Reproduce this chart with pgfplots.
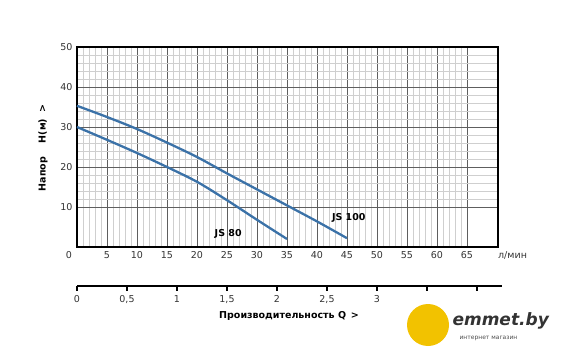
\documentclass[border=0pt]{standalone}
\usepackage{pgfplots}
\pgfplotsset{compat=1.18}
\usepackage{fontspec}
\setmainfont{DejaVu Sans}
\definecolor{curve}{HTML}{3B72A8}
\definecolor{majgrid}{HTML}{5E5E5E}
\definecolor{mingrid}{HTML}{CFCFCF}
\definecolor{ticktext}{HTML}{333333}
\definecolor{logoyellow}{HTML}{F2C200}
\begin{document}
\begin{tikzpicture}[x=1pt,y=1pt]
\useasboundingbox (0,0) rectangle (567,359);
\begin{axis}[
  at={(77pt,112pt)}, anchor=south west,
  scale only axis, width=421pt, height=200pt,
  xmin=0, xmax=70.17, ymin=0, ymax=50,
  xtick={0,5,...,65}, ytick={10,20,...,50},
  xticklabels={0\hspace*{16pt},5,10,15,20,25,30,35,40,45,50,55,60,65},
  minor x tick num=4, minor y tick num=4,
  grid=both,
  major grid style={majgrid, line width=0.9pt},
  minor grid style={mingrid, line width=0.6pt},
  major tick length=0pt, minor tick length=0pt,
  axis line style={black, line width=2.6pt},
  /pgf/number format/assume math mode=true,
  ticklabel style={font=\fontsize{9.5}{11}\selectfont, text=ticktext},
  xticklabel style={yshift=-1pt},
  yticklabel style={xshift=-1pt},
  clip=false,
]
\addplot[curve, line width=2.3pt, smooth] coordinates {
 (0,35.3) (5,32.5) (10,29.5) (15,26.1) (20,22.5) (25,18.4) (30,14.4) (35,10.4) (40,6.4) (45,2.2)};
\addplot[curve, line width=2.3pt, smooth] coordinates {
 (0,30) (5,26.8) (10,23.5) (15,20) (20,16.3) (25,11.7) (30,6.8) (35,2)};
\node[font=\bfseries\fontsize{9.5}{11}\selectfont] at (axis cs:25.2,3.3) {JS 80};
\node[font=\bfseries\fontsize{9.5}{11}\selectfont] at (axis cs:45.3,7.3) {JS 100};
\node[font=\fontsize{9.5}{11}\selectfont, text=ticktext] at (axis cs:72.6,-2.1) {л/мин};
\end{axis}
\begin{axis}[
  at={(77pt,73pt)}, anchor=south west,
  scale only axis, width=425pt, height=1pt,
  xmin=0, xmax=4.25, ymin=0, ymax=1,
  axis y line=none, axis x line*=bottom,
  axis line style={black, line width=1.3pt, -},
  xtick={0,0.5,...,4},
  xticklabels={0,{0,5},1,{1,5},2,{2,5},3,{},{}},
  tick align=outside, major tick length=5pt,
  tick style={black, line width=1.2pt},
  ticklabel style={font=\fontsize{9.5}{11}\selectfont, text=ticktext},
  xticklabel style={yshift=-1pt},
]
\addplot[draw=none] coordinates {(0,0) (4.25,0)};
\end{axis}
\node[font=\bfseries\fontsize{9.5}{11}\selectfont] at (289,43) {Производительность Q\enspace >};
\node[font=\bfseries\fontsize{9.5}{11}\selectfont, rotate=90] at (43,211) {Напор\hspace{14pt}H(м)\hspace{6pt}>};
% logo
\fill[logoyellow] (428,34) circle (21);
\node[anchor=west, font=\bfseries\itshape\fontsize{17}{18}\selectfont, text=black!80] at (449,38) {emmet.by};
\node[anchor=west, font=\fontsize{6}{7}\selectfont, text=black!70] at (456,21) {интернет магазин};
\end{tikzpicture}
\end{document}
